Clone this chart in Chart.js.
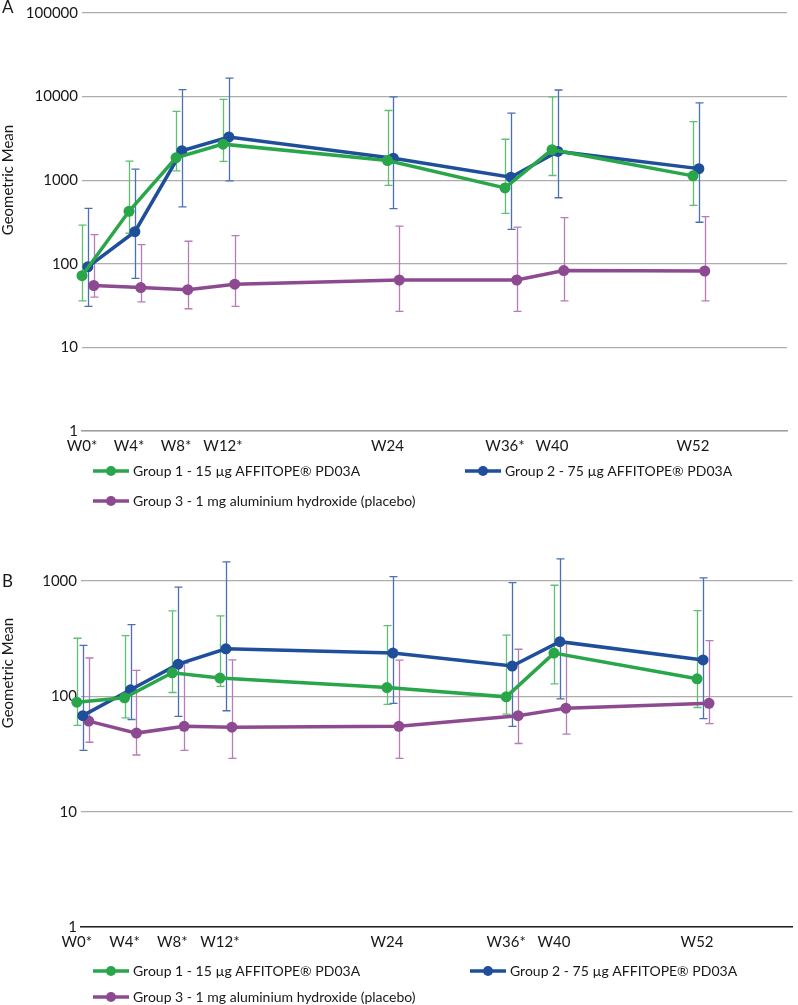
<!DOCTYPE html>
<html>
<head>
<meta charset="utf-8">
<script src="https://cdn.jsdelivr.net/npm/chart.js@4.4.0/dist/chart.umd.min.js"></script>
<style>
  html, body { margin: 0; padding: 0; background: #fff; }
  #panelA { position: absolute; left: 0; top: 0; }
  #panelB { position: absolute; left: 0; top: 520px; }
</style>
</head>
<body>
<canvas id="panelA" width="798" height="520"></canvas>
<canvas id="panelB" width="798" height="485"></canvas>
<script>
// visits (the W24 visit sits at about week 26 in the figure)
const visitLabels = ['W0*', 'W4*', 'W8*', 'W12*', 'W24', 'W36*', 'W40', 'W52'];
const visitWeeks = [0, 4, 8, 12, 26, 36, 40, 52];

const groupNames = [
  'Group 1 - 15 µg AFFITOPE® PD03A',
  'Group 2 - 75 µg AFFITOPE® PD03A',
  'Group 3 - 1 mg aluminium hydroxide (placebo)'
];

// panel A - geometric means with lower / upper error bar ends
const aGroup1 = [72, 425, 1850, 2700, 1720, 808, 2315, 1127];
const aGroup1Low = [36, 232, 1290, 1675, 869, 400, 1138, 500];
const aGroup1High = [290, 1690, 6640, 9250, 6820, 3090, 9950, 5020];
const aGroup2 = [92, 242, 2250, 3290, 1830, 1087, 2210, 1375];
const aGroup2Low = [31, 67, 480, 980, 458, 258, 617, 314];
const aGroup2High = [459, 1360, 12100, 16600, 9950, 6340, 12000, 8390];
const aGroup3 = [55, 52, 49, 57, 64, 64, 83, 82];
const aGroup3Low = [40, 35, 29, 31, 27, 27, 36, 36];
const aGroup3High = [223, 170, 186, 217, 282, 274, 356, 366];
const aTicks = [1, 10, 100, 1000, 10000, 100000];

// panel B
const bGroup1 = [89, 97, 160, 144, 119, 99, 237, 142];
const bGroup1Low = [56, 65, 108, 122, 85, 70, 128, 80];
const bGroup1High = [319, 336, 550, 498, 410, 339, 919, 554];
const bGroup2 = [68, 114, 190, 258, 237, 183, 298, 207];
const bGroup2Low = [34, 63, 67, 75, 87, 55, 95, 64];
const bGroup2High = [277, 419, 884, 1465, 1092, 969, 1555, 1064];
const bGroup3 = [61, 48, 55, 54, 55, 68, 79, 87];
const bGroup3Low = [40, 31, 34, 29, 29, 39, 47, 58];
const bGroup3High = [215, 168, 194, 207, 206, 256, 290, 304];
const bTicks = [1, 10, 100, 1000];

const lineColors = ['#2aa64a', '#1f4e9b', '#8d4a91'];
const barColors = ['#5ec172', '#4b70b4', '#b77bb6'];
const shift = [0, 0.5, 1];   // small side shift so the bars do not overlap
const textColor = '#1a1718';
const fontName = 'Lato, "Open Sans", sans-serif';

// vertical error bars with caps
const errorBars = {
  id: 'errorBars',
  beforeDatasetsDraw(chart) {
    const ctx = chart.ctx;
    const xs = chart.scales.x, ys = chart.scales.y;
    chart.data.datasets.slice().reverse().forEach(ds => {
      ctx.save();
      ctx.strokeStyle = ds.barColor;
      ctx.lineWidth = 1.3;
      ds.data.forEach((p, i) => {
        const px = Math.round(xs.getPixelForValue(p.x)) + 0.5;
        const top = ys.getPixelForValue(ds.high[i]);
        const bot = ys.getPixelForValue(ds.low[i]);
        ctx.beginPath();
        ctx.moveTo(px, top); ctx.lineTo(px, bot);
        ctx.moveTo(px - 4, top); ctx.lineTo(px + 4, top);
        ctx.moveTo(px - 4, bot); ctx.lineTo(px + 4, bot);
        ctx.stroke();
      });
      ctx.restore();
    });
  }
};

// legend, panel letter and y title
const decor = {
  id: 'decor',
  afterDraw(chart, args, opts) {
    const ctx = chart.ctx;
    ctx.save();
    ctx.fillStyle = textColor;
    ctx.font = '17px ' + fontName;
    ctx.textBaseline = 'middle';
    ctx.fillText(opts.letter, opts.letterX, opts.letterY);

    ctx.save();
    ctx.translate(opts.titleX, opts.titleY);
    ctx.rotate(-Math.PI / 2);
    ctx.textAlign = 'center';
    ctx.font = '15px ' + fontName;
    ctx.fillText('Geometric Mean', 0, 0);
    ctx.restore();

    ctx.font = '14px ' + fontName;
    chart.data.datasets.forEach((ds, i) => {
      const pos = opts.legend[i];
      ctx.strokeStyle = ds.borderColor;
      ctx.lineWidth = 3.5;
      ctx.beginPath();
      ctx.moveTo(pos.x, pos.y); ctx.lineTo(pos.x + 36, pos.y);
      ctx.stroke();
      ctx.fillStyle = ds.borderColor;
      ctx.beginPath();
      ctx.arc(pos.x + 18, pos.y, 5, 0, Math.PI * 2);
      ctx.fill();
      ctx.fillStyle = textColor;
      ctx.textAlign = 'left';
      ctx.fillText(ds.label, pos.x + 40, pos.y);
    });
    ctx.restore();
  }
};

function makeDatasets(means, lows, highs) {
  return means.map((vals, g) => ({
    label: groupNames[g],
    data: vals.map((v, i) => ({ x: visitWeeks[i] + shift[g], y: v })),
    low: lows[g],
    high: highs[g],
    borderColor: lineColors[g],
    backgroundColor: lineColors[g],
    barColor: barColors[g],
    borderWidth: 3.5,
    pointRadius: 5.5,
    pointBorderWidth: 0,
    clip: false
  }));
}

function makeChart(id, datasets, cfg) {
  return new Chart(document.getElementById(id), {
    type: 'line',
    data: { datasets: datasets },
    options: {
      responsive: false,
      animation: false,
      layout: { padding: cfg.padding },
      plugins: {
        legend: { display: false },
        tooltip: { enabled: false },
        decor: cfg.decor
      },
      scales: {
        x: {
          type: 'linear',
          min: cfg.xMin,
          max: 60,
          afterBuildTicks: axis => { axis.ticks = visitWeeks.map(v => ({ value: v })); },
          afterFit: axis => { axis.height = 28; },
          grid: { display: false, drawTicks: false },
          border: { color: cfg.axisColor, width: 1.5 },
          ticks: {
            autoSkip: false,
            maxRotation: 0,
            padding: 6,
            color: textColor,
            font: { family: fontName, size: 15 },
            callback: (v, i) => visitLabels[i]
          }
        },
        y: {
          type: 'logarithmic',
          min: 1,
          max: cfg.yMax,
          afterBuildTicks: axis => { axis.ticks = cfg.yTicks.map(v => ({ value: v })); },
          afterFit: axis => { axis.width = cfg.yWidth; },
          grid: { color: '#adadad', lineWidth: 1.3, drawTicks: false },
          border: { display: false },
          ticks: {
            padding: 4,
            color: textColor,
            font: { family: fontName, size: 15 },
            callback: v => String(v)
          }
        }
      }
    },
    plugins: [errorBars, decor]
  });
}

makeChart('panelA',
  makeDatasets([aGroup1, aGroup2, aGroup3], [aGroup1Low, aGroup2Low, aGroup3Low], [aGroup1High, aGroup2High, aGroup3High]),
  {
    padding: { top: 5, right: 11, bottom: 61, left: 0 },
    xMin: 0, yMax: 100000, yTicks: aTicks, yWidth: 82, axisColor: '#a0a0a0',
    decor: {
      letter: 'A', letterX: 2, letterY: 8, titleX: 8, titleY: 180,
      legend: [{ x: 93, y: 471 }, { x: 465, y: 471 }, { x: 93, y: 501 }]
    }
  });

makeChart('panelB',
  makeDatasets([bGroup1, bGroup2, bGroup3], [bGroup1Low, bGroup2Low, bGroup3Low], [bGroup1High, bGroup2High, bGroup3High]),
  {
    padding: { top: 61, right: 1, bottom: 50, left: 0 },
    xMin: 0.35, yMax: 1000, yTicks: bTicks, yWidth: 81, axisColor: '#231f20',
    decor: {
      letter: 'B', letterX: 2, letterY: 62, titleX: 8, titleY: 153,
      legend: [{ x: 93, y: 451 }, { x: 470, y: 451 }, { x: 93, y: 477 }]
    }
  });
</script>
</body>
</html>
